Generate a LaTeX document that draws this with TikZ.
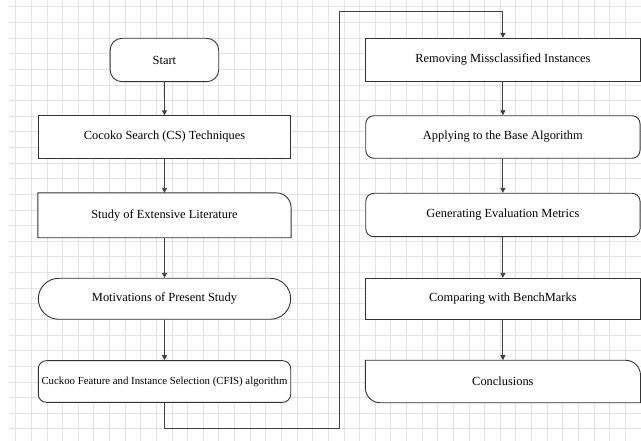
\documentclass[tikz,border=0pt]{standalone}
\usepackage{fontspec}
\setmainfont{Liberation Serif}
\usetikzlibrary{arrows.meta}

\tikzset{
  gridline/.style={draw=black!11, line width=0.8pt},
  boxline/.style={draw=black!80, line width=0.9pt},
  stepbase/.style={boxline, fill=white, inner sep=0pt, align=center,
    font=\fontsize{12.4}{14}\selectfont},
  leftbox/.style={stepbase, minimum width=252.4pt, minimum height=42.5pt},
  rightbox/.style={stepbase, minimum width=274.3pt, minimum height=42.5pt},
  arr/.style={draw=black!75, line width=0.9pt, -{Triangle[width=5pt,length=5pt]}}
}

\begin{document}
\begin{tikzpicture}[x=1pt, y=-1pt]
        \useasboundingbox (0,0) rectangle (641,441);
        % Grid
        \foreach \i in {0,...,40}
          \draw[gridline] (15.7+15.63*\i, 0) -- (15.7+15.63*\i, 441);
        \foreach \j in {0,...,27}
          \draw[gridline] (8.5, 6.8+15.63*\j) -- (641, 6.8+15.63*\j);

        % Left column
        \node[stepbase, minimum width=108.7pt, minimum height=43.4pt, rounded corners=12pt] (start) at (164.4, 60.0) {Start};
        \node[leftbox] (cs) at (164.5, 137.0) {Cocoko Search (CS) Techniques};
        \node[leftbox, draw=none, fill=none, minimum height=44pt] (lit) at (164.5, 215.3) {};
        \node[leftbox, minimum height=41pt, rounded corners=20.5pt] (mot) at (164.5, 298.8) {Motivations of Present Study};
        \node[leftbox, minimum height=41.6pt, rounded corners=8pt,
              font=\fontsize{10.8}{12}\selectfont] (cfis) at (164.5, 381.5) {Cuckoo Feature and Instance Selection (CFIS) algorithm};

        % Right column
        \node[rightbox, minimum height=42.7pt] (rem) at (502.9, 59.7) {Removing Missclassified Instances};
        \node[rightbox, rounded corners=8pt] (base) at (502.9, 137.0) {Applying to the Base Algorithm};
        \node[rightbox, minimum height=43.4pt, rounded corners=8pt] (metr) at (502.9, 215.0) {Generating Evaluation Metrics};
        \node[rightbox, minimum height=41pt] (bench) at (502.9, 298.8) {Comparing with BenchMarks};
        \node[rightbox, draw=none, fill=none, minimum height=41.6pt] (concl) at (502.9, 381.5) {};

        % Shapes with single rounded corners
        \draw[boxline, fill=white] (lit.south west) -- (lit.north west)
          -- ([xshift=-15pt]lit.north east) arc (90:0:15pt) -- (lit.south east) -- cycle;
        \node[font=\fontsize{12.4}{14}\selectfont] at (lit.center) {Study of Extensive Literature};
        \draw[boxline, fill=white] (concl.north west) -- ([xshift=-15pt]concl.north east)
          arc (90:0:15pt) -- (concl.south east) -- ([xshift=15pt]concl.south west)
          arc (270:180:15pt) -- cycle;
        \node[font=\fontsize{12.4}{14}\selectfont] at (concl.center) {Conclusions};

        % Coordinates
        \coordinate (LB) at (339.3, 428.3);
        \coordinate (LT) at (339.3, 11.7);

        % Connectors
        \draw[arr] (start) -- (cs);
        \draw[arr] (cs) -- (lit);
        \draw[arr] (lit) -- (mot);
        \draw[arr] (mot) -- (cfis);
        \draw[arr] (cfis.south) |- (LB) -- (LT) -| (rem.north);
        \draw[arr] (rem) -- (base);
        \draw[arr] (base) -- (metr);
        \draw[arr] (metr) -- (bench);
        \draw[arr] (bench) -- (concl);
\end{tikzpicture}
\end{document}
